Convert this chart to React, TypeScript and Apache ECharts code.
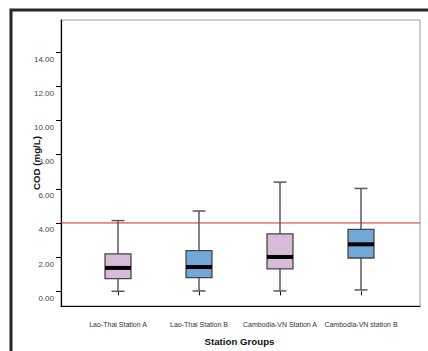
import React, { useEffect, useRef } from "react";
import * as echarts from "echarts";

// Station groups along the x axis
const categories = [
  "Lao-Thai Station A",
  "Lao-Thai Station B",
  "Cambodia-VN Station A",
  "Cambodia-VN station B",
];

// Five-number summaries of COD (mg/L) per station group
const whiskerLow = [0.0, 0.02, 0.02, 0.08];
const quartile1 = [0.74, 0.8, 1.31, 1.95];
const medians = [1.37, 1.42, 2.01, 2.75];
const quartile3 = [2.19, 2.38, 3.36, 3.63];
const whiskerHigh = [4.14, 4.7, 6.39, 6.02];

// Box fills alternate between the two station types
const boxFills = ["#d8bbd9", "#72a8d7", "#d8bbd9", "#72a8d7"];

// Reference standard for COD
const codLimit = 4.0;

// y tick values
const yTicks = [0, 2, 4, 6, 8, 10, 12, 14];
const yMin = -0.86;
const yMax = 15.88;

const yTitle = "COD (mg/L)";
const xTitle = "Station Groups";

const FONT = "Liberation Sans, Arial, sans-serif";

export default function App() {
  const ref = useRef<HTMLDivElement>(null);

  useEffect(() => {
    if (!ref.current) return;
    const chart = echarts.init(ref.current, null, { renderer: "svg" });

    const boxData = categories.map((_, i) => [
      i,
      whiskerLow[i],
      quartile1[i],
      medians[i],
      quartile3[i],
      whiskerHigh[i],
    ]);

    const renderBox = (params: any, api: any) => {
      const idx = api.value(0);
      const lo = api.coord([idx, api.value(1)]);
      const q1 = api.coord([idx, api.value(2)]);
      const med = api.coord([idx, api.value(3)]);
      const q3 = api.coord([idx, api.value(4)]);
      const hi = api.coord([idx, api.value(5)]);
      const band = api.size([1, 0])[0];
      const boxW = band * 0.32;
      const capW = boxW / 2;
      const cx = lo[0];
      const whiskerStyle = { stroke: "#5a5a5a", lineWidth: 1.5 };
      return {
        type: "group",
        children: [
          {
            type: "line",
            shape: { x1: cx, y1: lo[1], x2: cx, y2: hi[1] },
            style: whiskerStyle,
          },
          {
            type: "line",
            shape: { x1: cx - capW / 2, y1: lo[1], x2: cx + capW / 2, y2: lo[1] },
            style: whiskerStyle,
          },
          {
            type: "line",
            shape: { x1: cx - capW / 2, y1: hi[1], x2: cx + capW / 2, y2: hi[1] },
            style: whiskerStyle,
          },
          {
            type: "rect",
            shape: { x: cx - boxW / 2, y: q3[1], width: boxW, height: q1[1] - q3[1] },
            style: { fill: boxFills[params.dataIndex], stroke: "#444", lineWidth: 1.3 },
          },
          {
            type: "line",
            shape: { x1: cx - boxW / 2, y1: med[1], x2: cx + boxW / 2, y2: med[1] },
            style: { stroke: "#000", lineWidth: 4 },
          },
        ],
      };
    };

    chart.setOption({
      animation: false,
      backgroundColor: "#fff",
      graphic: [
        {
          type: "polyline",
          shape: { points: [[11, 351], [11, 10], [428, 10]] },
          style: { stroke: "#262626", lineWidth: 3, fill: "none" },
        },
        {
          // y-axis title, drawn over the tick labels on a white ground
          type: "text",
          x: 36,
          y: 163,
          rotation: Math.PI / 2,
          z: 100,
          style: {
            text: yTitle,
            fontSize: 9.7,
            fontWeight: "bold",
            fill: "#111",
            fontFamily: FONT,
            align: "center",
            verticalAlign: "middle",
            backgroundColor: "#fff",
            lineHeight: 9,
          },
        },
      ],
      grid: [
        {
          left: 61,
          right: 8,
          top: 20,
          bottom: 45,
          show: true,
          borderColor: "#9a9a9a",
          borderWidth: 1,
          backgroundColor: "transparent",
        },
        { left: 77.5, width: 324, top: 20, bottom: 45 },
      ],
      xAxis: [
        {
          gridIndex: 0,
          type: "value",
          min: 0,
          max: 1,
          axisLine: { show: true, onZero: false, lineStyle: { color: "#000", width: 1.2 } },
          axisTick: { show: false },
          axisLabel: { show: false },
          splitLine: { show: false },
        },
        {
          gridIndex: 1,
          type: "category",
          data: categories,
          axisLine: { show: false },
          axisTick: {
            show: true,
            alignWithLabel: true,
            length: 4,
            lineStyle: { color: "#000", width: 1 },
          },
          axisLabel: {
            interval: 0,
            fontSize: 7,
            color: "#333",
            fontFamily: FONT,
            margin: 15,
          },
          name: xTitle,
          nameLocation: "middle",
          nameGap: 30,
          nameMoveOverlap: false,
          nameTextStyle: { fontSize: 9.7, fontWeight: "bold", color: "#111", fontFamily: FONT },
        },
      ],
      yAxis: [
        {
          gridIndex: 0,
          type: "value",
          min: yMin,
          max: yMax,
          axisLine: { show: true, onZero: false, lineStyle: { color: "#000", width: 1.2 } },
          axisTick: {
            show: true,
            length: 5,
            customValues: yTicks,
            lineStyle: { color: "#000", width: 1 },
          },
          axisLabel: {
            customValues: yTicks,
            formatter: (v: number) => v.toFixed(2),
            fontSize: 8,
            color: "#444",
            fontFamily: FONT,
            margin: 7,
            verticalAlign: "top",
            lineHeight: 14,
          },
          splitLine: { show: false },
        },
        {
          gridIndex: 1,
          type: "value",
          min: yMin,
          max: yMax,
          show: false,
        },
      ],
      series: [
        {
          type: "line",
          xAxisIndex: 0,
          yAxisIndex: 0,
          data: [
            [0, codLimit],
            [1, codLimit],
          ],
          symbol: "none",
          lineStyle: { color: "#d22a30", width: 1 },
          silent: true,
          z: 1,
        },
        {
          type: "custom",
          xAxisIndex: 1,
          yAxisIndex: 1,
          data: boxData,
          renderItem: renderBox,
          encode: { x: 0, y: [1, 2, 3, 4, 5] },
          z: 3,
        },
      ],
    });

    return () => chart.dispose();
  }, []);

  return (
    <div style={{ position: "absolute", left: 0, top: 0, width: 428, height: 351 }}>
      <div ref={ref} style={{ width: 428, height: 351 }} />
    </div>
  );
}
